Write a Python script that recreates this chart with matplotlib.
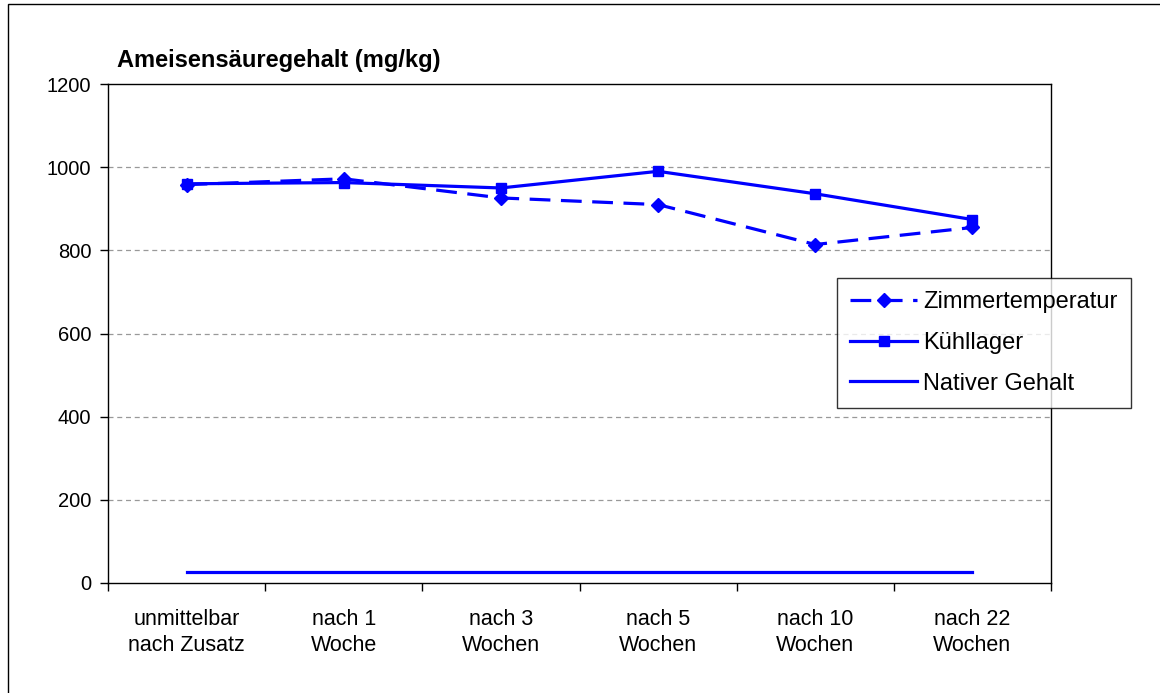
import matplotlib
matplotlib.use("Agg")
import matplotlib.pyplot as plt
from matplotlib.patches import Rectangle

plt.rcParams['font.family'] = ['Liberation Sans', 'DejaVu Sans']

categories = ["unmittelbar\nnach Zusatz", "nach 1\nWoche", "nach 3\nWochen",
              "nach 5\nWochen", "nach 10\nWochen", "nach 22\nWochen"]
zimmertemperatur = [958, 972, 926, 910, 814, 855]
kuehllager = [960, 963, 950, 990, 936, 874]
nativer_gehalt = [27, 27, 27, 27, 27, 27]
yticks = [0, 200, 400, 600, 800, 1000, 1200]

W, H = 1160, 693
fig = plt.figure(figsize=(W / 100, H / 100), dpi=100)
fig.patch.set_facecolor("white")

# outer frame
fig.add_artist(Rectangle((8 / W, -0.01), 1.02, 1 - 4 / H + 0.01, transform=fig.transFigure,
                         fill=False, edgecolor="black", linewidth=1.0))

ax = fig.add_axes([108 / W, 1 - 583 / H, (1051 - 108) / W, (583 - 84) / H])
x = list(range(len(categories)))
blue = "#0000FF"

ax.plot(x, zimmertemperatur, color=blue, lw=2.3, marker="D", markersize=7.5,
        dashes=(6.5, 3.3), label="Zimmertemperatur", zorder=3)
ax.plot(x, kuehllager, color=blue, lw=2.3, marker="s", markersize=7,
        label="Kühllager", zorder=3)
ax.plot(x, nativer_gehalt, color=blue, lw=2.3, label="Nativer Gehalt", zorder=3)

ax.set_xlim(-0.5, len(categories) - 0.5)
ax.set_ylim(0, 1200)
ax.set_yticks(yticks)
ax.set_yticklabels([str(v) for v in yticks], fontsize=14.5)
ax.set_xticks([i - 0.5 for i in range(len(categories) + 1)])
ax.set_xticklabels([])
ax.set_xticks(x, minor=True)
ax.set_xticklabels(categories, minor=True, fontsize=15.5, linespacing=1.3)
ax.tick_params(axis="x", which="minor", length=0, pad=19)
ax.tick_params(axis="x", which="major", length=6, width=1, direction="out")
ax.tick_params(axis="y", length=6, width=1, direction="out", pad=6)

for v in yticks[1:-1]:
    ax.axhline(v, color="#999999", lw=0.9, dashes=(4, 3), zorder=1)

for s in ax.spines.values():
    s.set_linewidth(1.0)
    s.set_color("black")

fig.text(117 / W, 1 - 60 / H, "Ameisensäuregehalt (mg/kg)", fontsize=17,
         fontweight="bold", va="center", ha="left")

leg = fig.legend(loc="upper left", bbox_to_anchor=(837 / W, 1 - 278 / H),
                 fontsize=17, frameon=True, fancybox=False, handlelength=2.85,
                 handletextpad=0.25, borderpad=0.55, labelspacing=0.8, borderaxespad=0)
leg.get_frame().set_edgecolor("black")
leg.get_frame().set_linewidth(1.0)

fig.savefig("out.png", dpi=100)
